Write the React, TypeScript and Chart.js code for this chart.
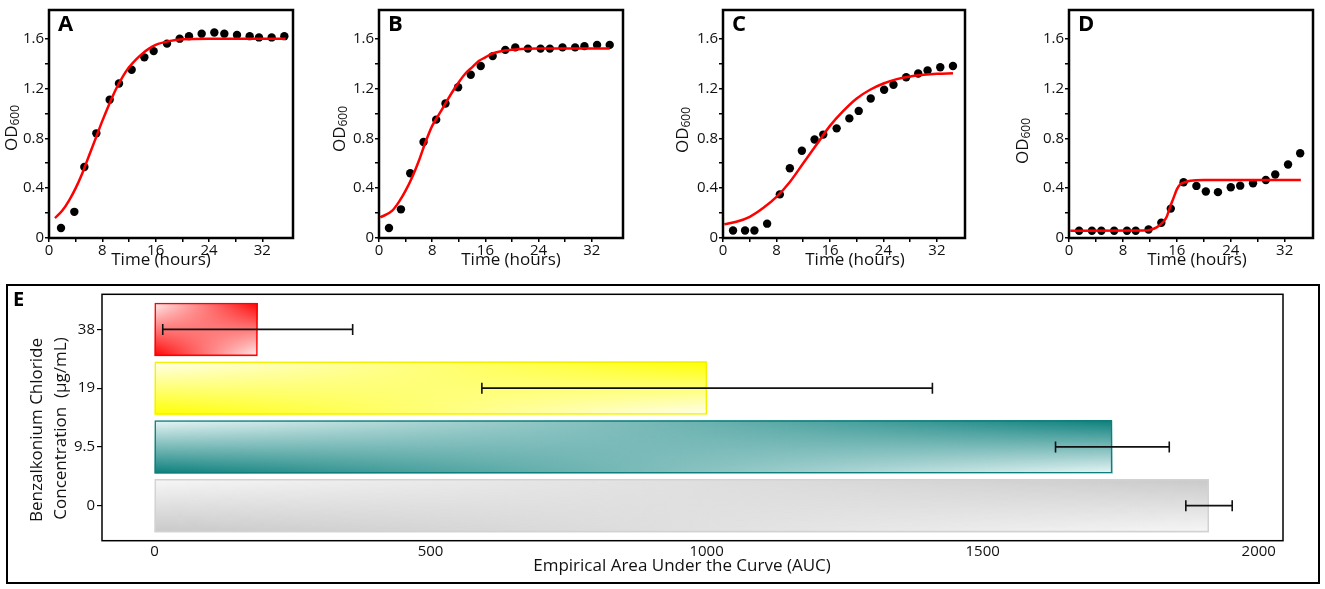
import React, { useEffect, useRef } from 'react';
import { Chart, registerables } from 'chart.js';

Chart.register(...registerables);

// ---- growth curves: sampling times (h) and OD600 readings ----
const timeA = [1.8, 3.8, 5.3, 7.1, 9.1, 10.5, 12.4, 14.3, 15.7, 17.7, 19.6, 21.0, 22.9, 24.8, 26.3, 28.2, 30.1, 31.5, 33.4, 35.3];
const odA = [0.08, 0.21, 0.57, 0.84, 1.11, 1.24, 1.35, 1.45, 1.5, 1.56, 1.6, 1.62, 1.64, 1.65, 1.64, 1.63, 1.62, 1.61, 1.61, 1.62];
const timeB = [1.5, 3.3, 4.7, 6.7, 8.6, 10.0, 11.9, 13.8, 15.3, 17.1, 19.0, 20.5, 22.4, 24.3, 25.7, 27.6, 29.5, 30.9, 32.8, 34.7];
const odB = [0.08, 0.23, 0.52, 0.77, 0.95, 1.08, 1.21, 1.31, 1.38, 1.46, 1.51, 1.53, 1.52, 1.52, 1.52, 1.53, 1.53, 1.54, 1.55, 1.55];
const timeC = [1.5, 3.3, 4.7, 6.6, 8.5, 10.0, 11.8, 13.7, 15.0, 17.0, 18.9, 20.3, 22.1, 24.1, 25.5, 27.4, 29.2, 30.6, 32.5, 34.4];
const odC = [0.06, 0.06, 0.06, 0.115, 0.35, 0.56, 0.7, 0.79, 0.83, 0.88, 0.96, 1.02, 1.12, 1.19, 1.23, 1.29, 1.32, 1.345, 1.37, 1.38];
const timeD = [1.5, 3.4, 4.8, 6.7, 8.6, 9.9, 11.8, 13.7, 15.1, 17.0, 18.9, 20.3, 22.1, 24.0, 25.4, 27.3, 29.2, 30.6, 32.5, 34.3];
const odD = [0.058, 0.058, 0.058, 0.058, 0.058, 0.058, 0.068, 0.123, 0.236, 0.447, 0.418, 0.373, 0.368, 0.407, 0.42, 0.44, 0.465, 0.51, 0.59, 0.68];

// fitted curves
const fitTimeA = [0.9, 2, 3, 4, 5, 6, 7, 8, 9, 10, 11, 12, 13, 14, 15, 16, 18, 20, 24, 35.5];
const fitA = [0.16, 0.22, 0.3, 0.4, 0.52, 0.66, 0.8, 0.94, 1.07, 1.19, 1.29, 1.37, 1.43, 1.48, 1.52, 1.55, 1.58, 1.595, 1.6, 1.6];
const fitTimeB = [0.2, 2, 3, 4, 5, 6, 7, 8, 9, 10, 11, 12, 13, 14, 15, 16, 17, 18, 20, 24, 34.7];
const fitB = [0.165, 0.22, 0.29, 0.38, 0.49, 0.62, 0.77, 0.9, 0.99, 1.08, 1.17, 1.25, 1.32, 1.37, 1.42, 1.45, 1.48, 1.495, 1.51, 1.52, 1.52];
const fitTimeC = [0.2, 2, 4, 6, 8, 10, 12, 14, 16, 18, 20, 22, 24, 26, 28, 30, 32, 34.4];
const fitC = [0.11, 0.13, 0.17, 0.24, 0.33, 0.45, 0.6, 0.75, 0.9, 1.02, 1.12, 1.19, 1.24, 1.275, 1.297, 1.31, 1.318, 1.322];
const fitTimeD = [0.2, 11, 12, 13, 14, 14.5, 15, 15.5, 16, 16.5, 17, 18, 20, 34.4];
const fitD = [0.058, 0.06, 0.065, 0.085, 0.13, 0.17, 0.25, 0.32, 0.39, 0.43, 0.445, 0.46, 0.465, 0.465];

// ---- panel E: AUC by benzalkonium chloride concentration ----
const concLabels = ['38', '19', '9.5', '0'];
const aucMean = [187, 1001, 1735, 1910];
const aucErr = [172, 408, 103, 42];
const aucTicks = [0, 500, 1000, 1500, 2000];

const barFull = ['#ff0000', '#ffff00', '#0b7f7b', '#c9c9c9'];
const barLight = ['#fff2f2', '#fffff0', '#eaf7f7', '#f7f7f7'];
const barEdge = ['#ff0000', '#f2f200', '#0e7f7b', '#d2d2d2'];

const FONT = '"Open Sans", sans-serif';
const INK = '#111';

type Panel = {
  letter: string;
  times: number[];
  od: number[];
  fitTimes: number[];
  fit: number[];
  plotLeft: number;
  plotRight: number;
  xMax: number;
  odX: number;
  odY: number;
  timeX: number;
};

const panels: Panel[] = [
  { letter: 'A', times: timeA, od: odA, fitTimes: fitTimeA, fit: fitA, plotLeft: 49, plotRight: 293, xMax: 36.6, odX: 12, odY: 128, timeX: 161 },
  { letter: 'B', times: timeB, od: odB, fitTimes: fitTimeB, fit: fitB, plotLeft: 379, plotRight: 623, xMax: 36.7, odX: 340, odY: 129, timeX: 511 },
  { letter: 'C', times: timeC, od: odC, fitTimes: fitTimeC, fit: fitC, plotLeft: 723, plotRight: 965, xMax: 36.2, odX: 683, odY: 130, timeX: 855 },
  { letter: 'D', times: timeD, od: odD, fitTimes: fitTimeD, fit: fitD, plotLeft: 1069, plotRight: 1313, xMax: 36.2, odX: 1023, odY: 141, timeX: 1197 },
];

const TOP = 5;
const CANVAS_H = 275;
const Y_W = 62;
const X_H = 37;
const PAD_R = 8;

const isStep = (v: number, step: number) => Math.abs(v / step - Math.round(v / step)) < 1e-6;

const GrowthPanel: React.FC<{ p: Panel }> = ({ p }) => {
  const ref = useRef<HTMLCanvasElement | null>(null);
  const left = p.plotLeft - Y_W;
  const width = p.plotRight - p.plotLeft + Y_W + PAD_R;

  useEffect(() => {
    if (!ref.current) return;

    const decor = {
      id: 'decor' + p.letter,
      afterDraw(chart: any) {
        const { ctx, chartArea: a } = chart;
        ctx.save();
        ctx.strokeStyle = '#000';
        ctx.lineWidth = 2.5;
        ctx.strokeRect(a.left, a.top, a.right - a.left, a.bottom - a.top);

        ctx.fillStyle = '#000';
        ctx.font = `bold 22px ${FONT}`;
        ctx.textAlign = 'left';
        ctx.textBaseline = 'alphabetic';
        ctx.fillText(p.letter, a.left + 9, a.top + 21);

        ctx.fillStyle = INK;
        ctx.font = `17px ${FONT}`;
        ctx.textAlign = 'center';
        ctx.textBaseline = 'middle';
        ctx.fillText('Time (hours)', p.timeX - left, 260);

        // OD with subscript 600, rotated
        ctx.translate(p.odX - left, p.odY);
        ctx.rotate(-Math.PI / 2);
        ctx.font = `17px ${FONT}`;
        const wOD = ctx.measureText('OD').width;
        ctx.font = `12px ${FONT}`;
        const wSub = ctx.measureText('600').width;
        const start = -(wOD + wSub) / 2;
        ctx.textAlign = 'left';
        ctx.font = `17px ${FONT}`;
        ctx.fillText('OD', start, 0);
        ctx.font = `12px ${FONT}`;
        ctx.fillText('600', start + wOD, 4);
        ctx.restore();
      },
    };

    const chart = new Chart(ref.current, {
      type: 'scatter',
      data: {
        datasets: [
          {
            type: 'line',
            label: 'fit',
            data: p.fitTimes.map((t, i) => ({ x: t, y: p.fit[i] })),
            borderColor: '#ff0000',
            borderWidth: 2.5,
            pointRadius: 0,
            cubicInterpolationMode: 'monotone',
            fill: false,
            order: 0,
          },
          {
            label: 'OD600',
            data: p.times.map((t, i) => ({ x: t, y: p.od[i] })),
            backgroundColor: '#000',
            borderWidth: 0,
            pointRadius: 4.2,
            order: 1,
          },
        ],
      } as any,
      options: {
        animation: false,
        responsive: true,
        maintainAspectRatio: false,
        layout: { autoPadding: false, padding: { left: 0, right: PAD_R, top: TOP, bottom: 0 } },
        plugins: { legend: { display: false }, tooltip: { enabled: false } },
        scales: {
          x: {
            type: 'linear',
            min: 0,
            max: p.xMax,
            afterBuildTicks: (s: any) => {
              s.ticks = s.ticks.filter((t: any) => isStep(t.value, 4));
            },
            afterFit: (s: any) => {
              s.height = X_H;
            },
            ticks: {
              stepSize: 4,
              autoSkip: false,
              maxRotation: 0,
              padding: 0,
              color: INK,
              font: { size: 15, family: FONT },
              callback: (v: any) => (isStep(v, 8) ? String(v) : ''),
            },
            grid: { drawOnChartArea: false, drawTicks: true, tickLength: 4, color: '#000', lineWidth: 1.5 },
            border: { display: false },
          },
          y: {
            type: 'linear',
            min: 0,
            max: 1.83,
            afterBuildTicks: (s: any) => {
              s.ticks = s.ticks.filter((t: any) => isStep(t.value, 0.2));
            },
            afterFit: (s: any) => {
              s.width = Y_W;
            },
            ticks: {
              stepSize: 0.2,
              autoSkip: false,
              padding: 1,
              color: INK,
              font: { size: 15, family: FONT },
              callback: (v: any) => (isStep(v, 0.4) ? (Math.abs(v) < 1e-6 ? '0' : Number(v).toFixed(1)) : ''),
            },
            grid: { drawOnChartArea: false, drawTicks: true, tickLength: 4, color: '#000', lineWidth: 1.5 },
            border: { display: false },
          },
        },
      } as any,
      plugins: [decor],
    });

    return () => {
      chart.destroy();
    };
  }, [p]);

  return (
    <div style={{ position: 'absolute', left, top: 0, width, height: CANVAS_H }}>
      <canvas ref={ref} style={{ display: 'block' }} />
    </div>
  );
};

const E_TOP = 283;
const E_H = 303;

function paintBar(ctx: CanvasRenderingContext2D, l: number, t: number, w: number, h: number, light: string, full: string) {
  if (w <= 0 || h <= 0) return;
  const g1 = ctx.createLinearGradient(0, t, 0, t + h);
  g1.addColorStop(0, light);
  g1.addColorStop(1, full);
  ctx.fillStyle = g1;
  ctx.fillRect(l, t, w, h);

  const s = 2;
  const off = document.createElement('canvas');
  off.width = Math.max(1, Math.ceil(w * s));
  off.height = Math.max(1, Math.ceil(h * s));
  const o = off.getContext('2d');
  if (!o) return;
  const g2 = o.createLinearGradient(0, 0, 0, off.height);
  g2.addColorStop(0, full);
  g2.addColorStop(1, light);
  o.fillStyle = g2;
  o.fillRect(0, 0, off.width, off.height);
  o.globalCompositeOperation = 'destination-in';
  const mask = o.createLinearGradient(0, 0, off.width, 0);
  mask.addColorStop(0, 'rgba(0,0,0,0)');
  mask.addColorStop(1, 'rgba(0,0,0,1)');
  o.fillStyle = mask;
  o.fillRect(0, 0, off.width, off.height);
  ctx.drawImage(off, l, t, w, h);
}

const AucChart: React.FC = () => {
  const ref = useRef<HTMLCanvasElement | null>(null);

  useEffect(() => {
    if (!ref.current) return;

    const barPaint = {
      id: 'barPaint',
      beforeDatasetsDraw(chart: any) {
        const { ctx } = chart;
        const meta = chart.getDatasetMeta(0);
        ctx.save();
        meta.data.forEach((el: any, i: number) => {
          const { x, y, base, height } = el.getProps(['x', 'y', 'base', 'height'], true);
          paintBar(ctx, Math.min(x, base), y - height / 2, Math.abs(x - base), height, barLight[i], barFull[i]);
        });
        ctx.restore();
      },
      afterDatasetsDraw(chart: any) {
        const { ctx } = chart;
        const xs = chart.scales.x;
        const meta = chart.getDatasetMeta(0);
        ctx.save();
        ctx.strokeStyle = '#111';
        ctx.lineWidth = 1.6;
        meta.data.forEach((el: any, i: number) => {
          const y = el.y;
          const lo = xs.getPixelForValue(aucMean[i] - aucErr[i]);
          const hi = xs.getPixelForValue(aucMean[i] + aucErr[i]);
          ctx.beginPath();
          ctx.moveTo(lo, y);
          ctx.lineTo(hi, y);
          ctx.moveTo(lo, y - 5.5);
          ctx.lineTo(lo, y + 5.5);
          ctx.moveTo(hi, y - 5.5);
          ctx.lineTo(hi, y + 5.5);
          ctx.stroke();
        });
        ctx.restore();
      },
      afterDraw(chart: any) {
        const { ctx, chartArea: a } = chart;
        const xs = chart.scales.x;
        ctx.save();
        ctx.strokeStyle = '#000';
        ctx.lineWidth = 2;
        ctx.strokeRect(7, 2, 1312, 298);
        ctx.lineWidth = 1.5;
        ctx.strokeRect(a.left, a.top - 5.7, a.right - a.left, a.bottom - a.top + 11.4);

        // value axis labels just under the inner frame
        ctx.fillStyle = INK;
        ctx.font = `15px ${FONT}`;
        ctx.textAlign = 'center';
        ctx.textBaseline = 'middle';
        aucTicks.forEach((v) => {
          ctx.fillText(String(v), xs.getPixelForValue(v), 551.5 - E_TOP);
        });

        ctx.fillStyle = '#000';
        ctx.font = `bold 20px ${FONT}`;
        ctx.textAlign = 'left';
        ctx.textBaseline = 'alphabetic';
        ctx.fillText('E', 13, 23);

        ctx.fillStyle = INK;
        ctx.font = `17px ${FONT}`;
        ctx.textAlign = 'center';
        ctx.textBaseline = 'middle';
        ctx.fillText('Empirical Area Under the Curve (AUC)', 682, 566.5 - E_TOP);

        ctx.save();
        ctx.translate(37.5, 430 - E_TOP);
        ctx.rotate(-Math.PI / 2);
        ctx.fillText('Benzalkonium Chloride', 0, 0);
        ctx.restore();
        ctx.translate(61.5, 428.5 - E_TOP);
        ctx.rotate(-Math.PI / 2);
        ctx.fillText('Concentration  (\u00b5g/mL)', 0, 0);
        ctx.restore();
      },
    };

    const chart = new Chart(ref.current, {
      type: 'bar',
      data: {
        labels: concLabels,
        datasets: [
          {
            label: 'AUC',
            data: aucMean,
            backgroundColor: 'rgba(0,0,0,0)',
            borderColor: barEdge,
            borderWidth: 1.5,
            borderSkipped: false,
            barPercentage: 0.91,
            categoryPercentage: 1,
          },
        ],
      },
      options: {
        indexAxis: 'y',
        animation: false,
        responsive: true,
        maintainAspectRatio: false,
        layout: { autoPadding: false, padding: { left: 0, right: 42, top: 17, bottom: 0 } },
        plugins: { legend: { display: false }, tooltip: { enabled: false } },
        scales: {
          x: {
            type: 'linear',
            min: -95,
            max: 2044,
            afterFit: (s: any) => {
              s.height = E_H - 252;
            },
            ticks: { display: false, stepSize: 500, includeBounds: false },
            grid: { drawOnChartArea: false, drawTicks: false },
            border: { display: false },
          },
          y: {
            type: 'category',
            afterFit: (s: any) => {
              s.width = 102;
            },
            ticks: { padding: 2, color: INK, font: { size: 15, family: FONT } },
            grid: { offset: false, drawOnChartArea: false, drawTicks: true, tickLength: 5, color: '#000', lineWidth: 1.2 },
            border: { display: false },
          },
        },
      } as any,
      plugins: [barPaint],
    });

    return () => {
      chart.destroy();
    };
  }, []);

  return (
    <div style={{ position: 'absolute', left: 0, top: E_TOP, width: 1325, height: E_H }}>
      <canvas ref={ref} style={{ display: 'block' }} />
    </div>
  );
};

export default function App() {
  return (
    <div style={{ position: 'absolute', left: 0, top: 0, width: 1325, height: 589, background: '#fff', overflow: 'hidden' }}>
      {panels.map((p) => (
        <GrowthPanel key={p.letter} p={p} />
      ))}
      <AucChart />
    </div>
  );
}
